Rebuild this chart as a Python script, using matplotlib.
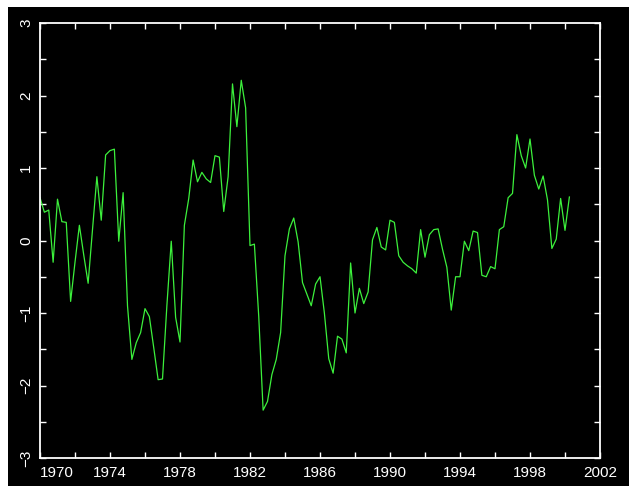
import numpy as np
import matplotlib
matplotlib.use("Agg")
import matplotlib.pyplot as plt
from matplotlib.patches import Rectangle

# Quarterly series, 1970Q1 .. 2000Q2
start_year = 1970
values = [
    0.59, 0.39, 0.42, -0.30, 0.57, 0.26, 0.25, -0.84, -0.30, 0.21,
    -0.20, -0.59, 0.15, 0.88, 0.28, 1.18, 1.24, 1.26, -0.01, 0.66,
    -0.90, -1.64, -1.41, -1.27, -0.94, -1.05, -1.48, -1.92, -1.91, -0.90,
    -0.01, -1.06, -1.40, 0.21, 0.58, 1.11, 0.81, 0.94, 0.85, 0.80,
    1.17, 1.15, 0.40, 0.88, 2.16, 1.57, 2.21, 1.83, -0.07, -0.05,
    -1.05, -2.34, -2.22, -1.85, -1.64, -1.27, -0.21, 0.16, 0.31, -0.02,
    -0.58, -0.74, -0.90, -0.60, -0.50, -1.00, -1.63, -1.83, -1.32, -1.36,
    -1.55, -0.31, -1.00, -0.66, -0.87, -0.71, 0.01, 0.18, -0.09, -0.13,
    0.28, 0.25, -0.21, -0.30, -0.35, -0.39, -0.45, 0.15, -0.23, 0.08,
    0.15, 0.16, -0.12, -0.37, -0.96, -0.50, -0.50, -0.01, -0.14, 0.13,
    0.11, -0.48, -0.50, -0.36, -0.39, 0.15, 0.19, 0.59, 0.65, 1.46,
    1.17, 1.00, 1.40, 0.90, 0.71, 0.89, 0.56, -0.11, 0.02, 0.58,
    0.14, 0.60,
]
years = start_year + np.arange(len(values)) / 4.0

x_ticks = np.arange(1970, 2003, 2)
x_labels = [str(t) if t % 4 == 2 else "" for t in x_ticks]
y_ticks = np.arange(-3, 3.01, 0.5)
y_labels = [str(int(t)).replace("-", "\u2212") if t == int(t) else "" for t in y_ticks]

plt.rcParams["font.family"] = ["Liberation Sans", "DejaVu Sans"]

fig = plt.figure(figsize=(6.29, 4.86), dpi=100, facecolor="white")
# black canvas with a thin white strip on the top and left
fig.patches.append(Rectangle((8 / 629, 0), 1, 1 - 7 / 486, transform=fig.transFigure,
                             facecolor="black", edgecolor="none", zorder=0))

ax = fig.add_axes([40 / 629, 28 / 486, 560 / 629, 435 / 486])
ax.set_zorder(1)
ax.set_facecolor("black")
ax.plot(years, values, color="#3cf03c", lw=0.9)

ax.set_xlim(1970, 2002)
ax.set_ylim(-3, 3)
ax.set_xticks(x_ticks)
ax.set_xticklabels(x_labels)
ax.set_yticks(y_ticks)
ax.set_yticklabels(y_labels, rotation=90, va="center")
ax.get_xticklabels()[0].set_horizontalalignment("left")

for s in ax.spines.values():
    s.set_color("white")
    s.set_linewidth(1.3)
ax.tick_params(direction="in", length=4, width=1, colors="white",
               top=True, right=True, labelsize=11, labelcolor="white")
ax.tick_params(axis="x", pad=6)
ax.tick_params(axis="y", pad=5)

fig.savefig("out.png", dpi=100, facecolor=fig.get_facecolor())
